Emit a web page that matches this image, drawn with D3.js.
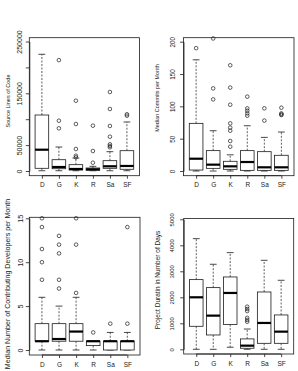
<!DOCTYPE html>
<html>
<head>
<meta charset="utf-8">
<script src="https://cdn.jsdelivr.net/npm/d3@7"></script>
<style>
body { margin: 0; background: #fff; }
text { font-family: "Liberation Sans", Arial, sans-serif; fill: #222; }
</style>
</head>
<body>
<svg id="chart" width="298" height="371"></svg>
<script>
var groups = ["D", "G", "K", "R", "Sa", "SF"]

// box stats per group: [lower whisker, q1, median, q3, upper whisker]
var slocBoxes = [
	[500, 5200, 41100, 108100, 225300],
	[500, 4400, 7700, 21800, 46300],
	[500, 1900, 3900, 12200, 25000],
	[500, 1400, 3300, 5800, 9000],
	[500, 5200, 9100, 19900, 37300],
	[500, 3300, 9700, 39200, 94600]
]
var slocOutliers = [
	[],
	[214000, 97100, 82400],
	[135700, 90700, 42500, 29500, 26400],
	[87500, 38600, 16000],
	[152500, 119700, 86900, 66200, 51500, 48300, 45800],
	[109500, 106800]
]
var slocTicks = [0, 50000, 100000, 150000, 200000, 250000]
// R drops the labels that would overlap
var slocLabels = [0, 50000, 150000, 250000]

var commitBoxes = [
	[0, 1.5, 19, 73.7, 172],
	[0, 4.1, 9.8, 31.5, 62.3],
	[0, 2.6, 7.2, 15, 25],
	[0, 1, 13.9, 31.5, 70],
	[0, 1, 5.7, 29.9, 52],
	[0, 1, 5.7, 24.3, 60.3]
]
var commitOutliers = [
	[190],
	[205, 127.8, 110.8],
	[163.5, 129, 102.5, 73.7, 67.1, 62.3, 46.4, 37.6],
	[115, 96.9, 93.2, 89.1, 85.5],
	[97, 78],
	[97.9, 89.1, 86.6, 87.5]
]
var commitTicks = [0, 50, 100, 150, 200]

var devBoxes = [
	[0, 1, 1, 3, 6],
	[0, 1, 1.25, 3, 5],
	[0, 1, 2.1, 3, 6],
	[0, 0.5, 1, 1, 1],
	[0, 0, 1, 1, 2],
	[0, 0, 1, 1, 2]
]
var devOutliers = [
	[15, 14, 11.5, 10, 8],
	[13, 12, 11, 8, 7],
	[15, 12, 6.5],
	[2],
	[3],
	[14, 3]
]
var devTicks = [0, 5, 10, 15]

var durBoxes = [
	[0, 885, 2000, 2680, 4256],
	[0, 551, 1295, 2372, 3270],
	[80, 950, 2167, 2782, 3718],
	[0, 40, 140, 400, 780],
	[0, 230, 1013, 2205, 3423],
	[0, 230, 679, 1321, 2654]
]
var durOutliers = [
	[],
	[],
	[],
	[1640, 1550, 1470, 1210, 1130, 1060],
	[],
	[]
]
var durTicks = [0, 1000, 2000, 3000, 4000, 5000]

var panels = [
	{ boxes: slocBoxes, outliers: slocOutliers, ticks: slocTicks, labels: slocLabels, title: "Source Lines of Code",
	  left: 29.3, right: 139.5, top: 37.7, bottom: 175.7, zero: 171, topTick: 41.5,
	  titleX: 8.3, titleY: 101, titleSize: 5.5, tickSize: 7, tickX: -9.3 },
	{ boxes: commitBoxes, outliers: commitOutliers, ticks: commitTicks, labels: commitTicks, title: "Median Commits per Month",
	  left: 183.5, right: 294, top: 37.7, bottom: 175.7, zero: 171, topTick: 41.7,
	  titleX: 157.3, titleY: 98, titleSize: 5.5, tickSize: 6.3, tickX: -11.2 },
	{ boxes: devBoxes, outliers: devOutliers, ticks: devTicks, labels: devTicks, title: "Median Number of Contributing Developers per Month",
	  left: 29.3, right: 140, top: 217.3, bottom: 355, zero: 350, topTick: 218.3,
	  titleX: 7, titleY: 284, titleSize: 7.1, tickSize: 7.2, tickX: -9.3 },
	{ boxes: durBoxes, outliers: durOutliers, ticks: durTicks, labels: durTicks, title: "Project Duratin in Number of Days",
	  left: 183.7, right: 293.7, top: 218.5, bottom: 354, zero: 349.3, topTick: 219.3,
	  titleX: 157.3, titleY: 280, titleSize: 6.5, tickSize: 6, tickX: -11.4 }
]

var svg = d3.select("#chart")
var ink = "#1a1a1a"

function drawPanel(p) {
	let g = svg.append("g")

	let x = d3.scaleLinear()
	.domain([0.26, 6.74])
	.range([p.left, p.right])

	let y = d3.scaleLinear()
	.domain([0, p.ticks[p.ticks.length - 1]])
	.range([p.zero, p.topTick])

	let half = x(1.4) - x(1)
	let cap = half / 2

	let box = g.selectAll(".box")
	.data(p.boxes)
	.join("g")
	.classed("box", true)
	.attr("transform", (d, i) => "translate(" + x(i + 1) + ",0)")

	// whiskers
	box.append("line")
	.attr("y1", d => y(d[3]))
	.attr("y2", d => y(d[4]))
	.attr("stroke", ink)
	.attr("stroke-width", 0.7)
	.attr("stroke-dasharray", "2,1.5")

	box.append("line")
	.attr("y1", d => y(d[1]))
	.attr("y2", d => y(d[0]))
	.attr("stroke", ink)
	.attr("stroke-width", 0.7)
	.attr("stroke-dasharray", "2,1.5")

	// staples
	box.append("line")
	.attr("x1", -cap).attr("x2", cap)
	.attr("y1", d => y(d[4])).attr("y2", d => y(d[4]))
	.attr("stroke", ink)
	.attr("stroke-width", 0.8)

	box.append("line")
	.attr("x1", -cap).attr("x2", cap)
	.attr("y1", d => y(d[0])).attr("y2", d => y(d[0]))
	.attr("stroke", ink)
	.attr("stroke-width", 0.8)

	box.append("rect")
	.attr("x", -half)
	.attr("width", half * 2)
	.attr("y", d => y(d[3]))
	.attr("height", d => Math.max(0, y(d[1]) - y(d[3])))
	.attr("fill", "#fff")
	.attr("stroke", ink)
	.attr("stroke-width", 0.8)

	box.append("line")
	.attr("x1", -half).attr("x2", half)
	.attr("y1", d => y(d[2])).attr("y2", d => y(d[2]))
	.attr("stroke", "#000")
	.attr("stroke-width", 2.2)

	box.selectAll("circle")
	.data((d, i) => p.outliers[i])
	.join("circle")
	.attr("cx", 0)
	.attr("cy", d => y(d))
	.attr("r", 1.8)
	.attr("fill", "none")
	.attr("stroke", ink)
	.attr("stroke-width", 0.7)

	// frame
	g.append("rect")
	.attr("x", p.left)
	.attr("y", p.top)
	.attr("width", p.right - p.left)
	.attr("height", p.bottom - p.top)
	.attr("fill", "none")
	.attr("stroke", ink)
	.attr("stroke-width", 0.8)

	let yAxis = g.append("g")
	.attr("transform", "translate(" + p.left + ",0)")
	.call(d3.axisLeft(y).tickValues(p.ticks).tickSize(3.5).tickSizeOuter(0)
		.tickFormat(d => p.labels.includes(d) ? d3.format("d")(d) : ""))

	yAxis.selectAll("text")
	.attr("x", null)
	.attr("dy", "0.35em")
	.attr("text-anchor", "middle")
	.attr("transform", "translate(" + p.tickX + ",0) rotate(-90)")
	.style("font-size", p.tickSize + "px")

	let xAxis = g.append("g")
	.attr("transform", "translate(0," + p.bottom + ")")
	.call(d3.axisBottom(x).tickValues([1, 2, 3, 4, 5, 6]).tickSize(3).tickPadding(4).tickSizeOuter(0).tickFormat(d => groups[d - 1]))

	xAxis.select(".domain").attr("d", "M" + x(1) + ",0H" + x(6))

	xAxis.selectAll("text")
	.style("font-size", "6.5px")

	g.selectAll(".domain").attr("stroke", ink).attr("stroke-width", 0.8)
	g.selectAll(".tick line").attr("stroke", ink).attr("stroke-width", 0.8)
	g.selectAll(".tick text").attr("font-family", null).attr("fill", null)

	g.append("text")
	.attr("transform", "translate(" + p.titleX + "," + p.titleY + ") rotate(-90)")
	.attr("text-anchor", "middle")
	.attr("dy", "0.35em")
	.style("font-size", p.titleSize + "px")
	.text(p.title)
}

panels.forEach(drawPanel)
</script>
</body>
</html>
